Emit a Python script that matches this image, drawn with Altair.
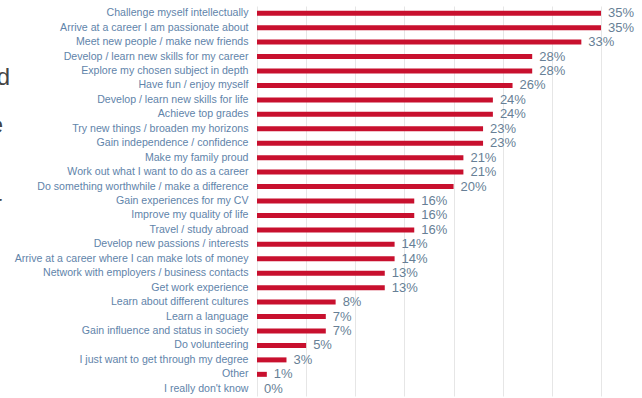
import altair as alt
import pandas as pd

categories = [
    "Challenge myself intellectually",
    "Arrive at a career I am passionate about",
    "Meet new people / make new friends",
    "Develop / learn new skills for my career",
    "Explore my chosen subject in depth",
    "Have fun / enjoy myself",
    "Develop / learn new skills for life",
    "Achieve top grades",
    "Try new things / broaden my horizons",
    "Gain independence / confidence",
    "Make my family proud",
    "Work out what I want to do as a career",
    "Do something worthwhile / make a difference",
    "Gain experiences for my CV",
    "Improve my quality of life",
    "Travel / study abroad",
    "Develop new passions / interests",
    "Arrive at a career where I can make lots of money",
    "Network with employers / business contacts",
    "Get work experience",
    "Learn about different cultures",
    "Learn a language",
    "Gain influence and status in society",
    "Do volunteering",
    "I just want to get through my degree",
    "Other",
    "I really don't know",
]
values = [35, 35, 33, 28, 28, 26, 24, 24, 23, 23, 21, 21, 20,
          16, 16, 16, 14, 14, 13, 13, 8, 7, 7, 5, 3, 1, 0]
value_labels = [f"{v}%" for v in values]
grid_values = [0, 5, 10, 15, 20, 25, 30, 35]

df = pd.DataFrame({"cat": categories, "val": values, "lab": value_labels})

FONT = "Liberation Sans"
BAR = "#c8102e"
CAT_COLOR = "#5f84aa"
VAL_COLOR = "#677f96"

y_enc = alt.Y(
    "cat:N",
    sort=categories,
    scale=alt.Scale(paddingInner=0, paddingOuter=0),
    axis=alt.Axis(
        title=None, ticks=False, domain=False, labelFontSize=10.6,
        labelColor=CAT_COLOR, labelPadding=9, labelFont=FONT, labelLimit=320,
    ),
)
x_enc = alt.X(
    "val:Q",
    scale=alt.Scale(domain=[0, 35], nice=False),
    axis=alt.Axis(
        title=None, labels=False, ticks=False, domain=False, grid=True,
        values=grid_values, gridColor="#e6e6e6", gridWidth=1,
    ),
)

base = alt.Chart(df)
bars = base.mark_bar(size=5, color=BAR).encode(x=x_enc, y=y_enc)
texts = base.mark_text(
    align="left", baseline="middle", dx=7, fontSize=13, font=FONT, color=VAL_COLOR
).encode(x="val:Q", y=alt.Y("cat:N", sort=categories), text="lab:N")

frag_d = alt.Chart(pd.DataFrame({"t": ["d"]})).mark_text(
    align="right", baseline="alphabetic", fontSize=24, font=FONT, color="#444444"
).encode(x=alt.value(-247), y=alt.value(79), text="t:N")
frag_e = alt.Chart(pd.DataFrame({"t": ["e"]})).mark_text(
    align="right", baseline="alphabetic", fontSize=24, font=FONT, color="#444444"
).encode(x=alt.value(-254), y=alt.value(127), text="t:N")
frag_r = alt.Chart(pd.DataFrame({"t": ["r"]})).mark_text(
    align="right", baseline="alphabetic", fontSize=24, font=FONT, color="#444444"
).encode(x=alt.value(-255), y=alt.value(206), text="t:N")

chart = alt.layer(bars, texts, frag_d, frag_e, frag_r).properties(
    width=344,
    height=390,
    autosize=alt.AutoSizeParams(type="none"),
    padding={"left": 257, "top": 6, "right": 41, "bottom": 2},
    background="white",
).configure_view(stroke=None)

chart.save("out.html", embed_options={"renderer": "svg", "actions": False})
